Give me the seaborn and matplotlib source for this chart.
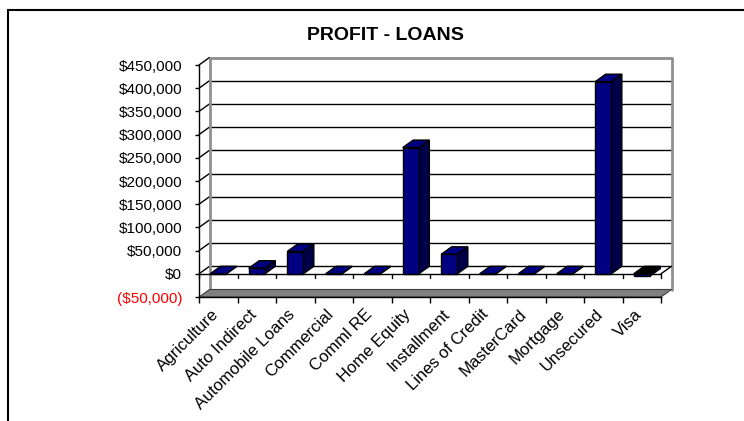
import numpy as np
import pandas as pd
import matplotlib
matplotlib.use("Agg")
import matplotlib.pyplot as plt
from matplotlib.patches import Polygon
from matplotlib.lines import Line2D
from matplotlib.transforms import ScaledTranslation
import seaborn as sns

categories = ["Agriculture", "Auto Indirect", "Automobile Loans", "Commercial", "Comml RE",
              "Home Equity", "Installment", "Lines of Credit", "MasterCard", "Mortgage",
              "Unsecured", "Visa"]
profit = [0, 12000, 48000, 0, 0, 272000, 42000, 0, 0, 0, 414000, -5000]
ytick_values = [-50000, 0, 50000, 100000, 150000, 200000, 250000, 300000, 350000, 400000, 450000]
ytick_labels = ["($50,000)", "$0", "$50,000", "$100,000", "$150,000", "$200,000", "$250,000",
                "$300,000", "$350,000", "$400,000", "$450,000"]
title = "PROFIT - LOANS"

sns.set_style("white")
plt.rcParams["font.family"] = ["Liberation Sans", "DejaVu Sans"]
plt.rcParams["text.color"] = "black"
plt.rcParams["xtick.color"] = "black"
plt.rcParams["ytick.color"] = "black"
plt.rcParams["axes.labelcolor"] = "black"

W, H = 744, 421
fig = plt.figure(figsize=(W / 100, H / 100), dpi=100)
L, R, T, B = 199, 661, 65, 297
ax = fig.add_axes([L / W, 1 - B / H, (R - L) / W, (B - T) / H])

df = pd.DataFrame({"cat": categories, "val": profit})
sns.barplot(data=df, x="cat", y="val", color="#000080", width=0.42, edgecolor="black",
            linewidth=1, saturation=1, ax=ax, zorder=4)

n = len(categories)
ymin, ymax = ytick_values[0], ytick_values[-1]
ax.set_xlim(-0.5, n - 0.5)
ax.set_ylim(ymin, ymax)

# depth offset (pixels -> data units)
dx_px, dy_px = 10.5, 7.5
ddx = dx_px * n / (R - L)
ddy = dy_px * (ymax - ymin) / (B - T)

def back(x, y):
    return (x + ddx, y + ddy)

x0, x1 = -0.5, n - 0.5

# back wall grid lines and side-wall diagonals
for v in ytick_values[1:]:
    (bx0, by), (bx1, _) = back(x0, v), back(x1, v)
    ax.add_line(Line2D([bx0, bx1], [by, by], color="black", lw=1, zorder=1, clip_on=False))
    ax.add_line(Line2D([x0, bx0], [v, by], color="black", lw=1, zorder=1, clip_on=False))

# back wall border (grey)
bl = back(x0, ymin); tl = back(x0, ymax); tr = back(x1, ymax); br = back(x1, ymin)
ax.add_line(Line2D([bl[0], tl[0], tr[0], br[0]], [bl[1], tl[1], tr[1], br[1]],
                   color="#909090", lw=2, zorder=1.5, clip_on=False))

# grey floor at bottom
floor = Polygon([(x0, ymin), (x1, ymin), back(x1, ymin), back(x0, ymin)], closed=True,
                facecolor="#808080", edgecolor="#404040", lw=0.8, zorder=2, clip_on=False)
ax.add_patch(floor)

# zero plane front line and ticks
ax.add_line(Line2D([x0, x1], [0, 0], color="black", lw=1, zorder=2, clip_on=False))
zb1 = back(x1, 0)
ax.add_line(Line2D([x1, zb1[0]], [0, zb1[1]], color="black", lw=1, zorder=2, clip_on=False))
tick_len = 4 * (ymax - ymin) / (B - T)
for i in range(n + 1):
    ax.add_line(Line2D([x0 + i, x0 + i], [0, -tick_len], color="black", lw=1, zorder=2,
                       clip_on=False))

# 3D faces of bars
for p, v in zip(ax.patches, profit):
    xl = p.get_x(); xr = xl + p.get_width()
    top = max(v, 0); bot = min(v, 0)
    side = Polygon([(xr, bot), (xr, top), back(xr, top), back(xr, bot)], closed=True,
                   facecolor="#00004a", edgecolor="black", lw=1, zorder=3.5, clip_on=False)
    topc = "#000000" if v < 0 else "#000080"
    topf = Polygon([(xl, top), (xr, top), back(xr, top), back(xl, top)], closed=True,
                   facecolor=topc, edgecolor="black", lw=1, zorder=3.6, clip_on=False)
    ax.add_patch(side)
    ax.add_patch(topf)

# axes styling
for s in ["top", "right"]:
    ax.spines[s].set_visible(False)
for s in ["left", "bottom"]:
    ax.spines[s].set_color("black")
    ax.spines[s].set_linewidth(1)
    ax.spines[s].set_zorder(2.5)
ax.set_facecolor("none")
ax.set_xlabel("")
ax.set_ylabel("")

ax.set_yticks(ytick_values)
ax.set_yticklabels(ytick_labels, fontsize=11)
for lbl, v in zip(ax.get_yticklabels(), ytick_values):
    if v < 0:
        lbl.set_color("red")
        lbl.set_transform(lbl.get_transform() + ScaledTranslation(0.06, 0, fig.dpi_scale_trans))
ax.tick_params(axis="y", which="major", direction="out", length=3, width=1, pad=9, left=True)

ax.set_xticks(np.arange(n))
ax.set_xticklabels(categories, rotation=45, ha="right", fontsize=12)
ax.tick_params(axis="x", which="major", length=0, pad=7)
for lbl in ax.get_xticklabels():
    lbl.set_transform(lbl.get_transform() + ScaledTranslation(0.03, 0, fig.dpi_scale_trans))
ax.set_xticks(np.arange(n + 1) - 0.5, minor=True)
ax.tick_params(axis="x", which="minor", direction="out", length=4, width=1, bottom=True)

fig.text(385 / W, 1 - 35 / H, title, ha="center", va="center", fontsize=14, fontweight="bold")

# outer frame
fig.add_artist(Line2D([8 / W, 1.0], [1 - 10 / H, 1 - 10 / H], transform=fig.transFigure,
                      color="black", lw=1.5))
fig.add_artist(Line2D([8 / W, 8 / W], [1 - 10 / H, 0], transform=fig.transFigure,
                      color="black", lw=1.5))

fig.savefig("out.png", dpi=100)
